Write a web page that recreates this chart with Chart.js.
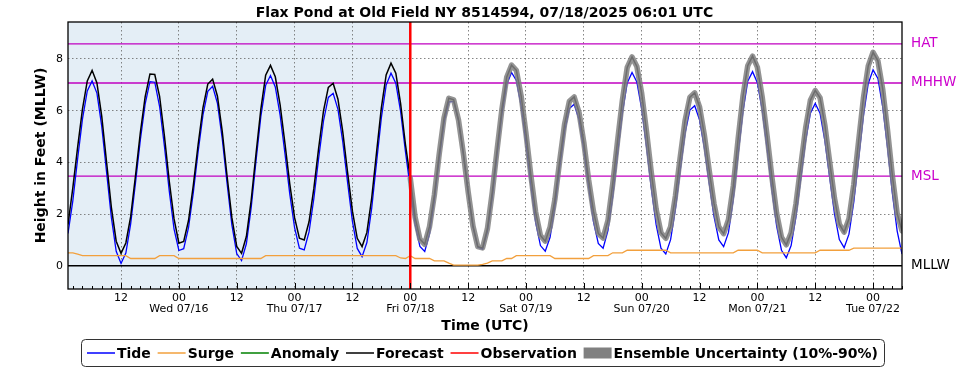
<!DOCTYPE html>
<html>
<head>
<meta charset="utf-8">
<title>Flax Pond at Old Field NY 8514594</title>
<script src="https://cdn.jsdelivr.net/npm/chart.js@4.4.1/dist/chart.umd.min.js"></script>
<style>
  html, body { margin: 0; padding: 0; background: #fff; }
  canvas { display: block; }
</style>
</head>
<body>
<canvas id="tideChart" width="969" height="370"></canvas>
<script>
// hourly values, first point is 07/15 01:00 UTC
const startHour = 1; // hours after 07/15 00:00 UTC
const nowHour = 72; // 07/18 00:00 UTC

const tide = [
  1.25, 2.51, 4.14, 5.67, 6.76, 7.15, 6.68, 5.39, 3.62, 1.86, 0.56, 0.09,
  0.49, 1.62, 3.20, 4.86, 6.25, 7.12, 7.10, 6.16, 4.63, 2.89, 1.42, 0.59,
  0.66, 1.47, 2.84, 4.42, 5.84, 6.75, 6.94, 6.28, 4.91, 3.18, 1.57, 0.47,
  0.20, 0.85, 2.25, 4.05, 5.77, 6.98, 7.36, 6.92, 5.83, 4.35, 2.78, 1.47,
  0.68, 0.61, 1.31, 2.60, 4.17, 5.60, 6.51, 6.67, 6.05, 4.79, 3.21, 1.72,
  0.67, 0.35, 0.90, 2.23, 3.99, 5.72, 6.99, 7.45, 7.06, 5.96, 4.41, 3.00,
  1.60, 0.75, 0.55, 1.24, 2.55, 4.13, 5.53, 6.34, 6.36, 5.62, 4.34, 2.85,
  1.52, 0.72, 0.64, 1.33, 2.64, 4.28, 5.85, 7.01, 7.48, 7.17, 6.18, 4.73,
  3.13, 1.69, 0.78, 0.56, 1.10, 2.29, 3.79, 5.19, 6.08, 6.25, 5.66, 4.49,
  3.04, 1.71, 0.86, 0.68, 1.36, 2.68, 4.33, 5.91, 7.07, 7.48, 7.11, 6.07,
  4.61, 3.00, 1.59, 0.68, 0.46, 1.01, 2.20, 3.71, 5.12, 6.02, 6.19, 5.65,
  4.56, 3.20, 1.91, 1.00, 0.74, 1.28, 2.58, 4.30, 5.95, 7.14, 7.51, 7.08,
  6.03, 4.55, 2.95, 1.53, 0.60, 0.31, 0.78, 1.89, 3.37, 4.82, 5.90, 6.28,
  5.90, 4.84, 3.42, 2.01, 1.01, 0.70, 1.22, 2.47, 4.14, 5.81, 7.05, 7.58,
  7.25, 6.15, 4.57, 2.81, 1.34, 0.45,
];

const surge = [
  0.50, 0.50, 0.45, 0.39, 0.39, 0.39, 0.39, 0.39, 0.39, 0.39, 0.39, 0.39,
  0.39, 0.28, 0.28, 0.28, 0.28, 0.28, 0.28, 0.39, 0.39, 0.39, 0.39, 0.28,
  0.28, 0.28, 0.28, 0.28, 0.28, 0.28, 0.28, 0.28, 0.28, 0.28, 0.28, 0.28,
  0.28, 0.28, 0.28, 0.28, 0.28, 0.39, 0.39, 0.39, 0.39, 0.39, 0.39, 0.39,
  0.39, 0.39, 0.39, 0.39, 0.39, 0.39, 0.39, 0.39, 0.39, 0.39, 0.39, 0.39,
  0.39, 0.39, 0.39, 0.39, 0.39, 0.39, 0.39, 0.39, 0.39, 0.30, 0.28, 0.39,
  0.28, 0.28, 0.28, 0.28, 0.19, 0.19, 0.19, 0.10, 0.02, 0.02, 0.02, 0.02,
  0.02, 0.02, 0.05, 0.10, 0.19, 0.19, 0.19, 0.28, 0.28, 0.39, 0.39, 0.39,
  0.39, 0.39, 0.39, 0.39, 0.39, 0.28, 0.28, 0.28, 0.28, 0.28, 0.28, 0.28,
  0.28, 0.39, 0.39, 0.39, 0.39, 0.50, 0.50, 0.50, 0.60, 0.60, 0.60, 0.60,
  0.60, 0.60, 0.60, 0.60, 0.60, 0.50, 0.50, 0.50, 0.50, 0.50, 0.50, 0.50,
  0.50, 0.50, 0.50, 0.50, 0.50, 0.50, 0.50, 0.60, 0.60, 0.60, 0.60, 0.60,
  0.50, 0.50, 0.50, 0.50, 0.50, 0.50, 0.50, 0.50, 0.50, 0.50, 0.50, 0.50,
  0.60, 0.60, 0.60, 0.60, 0.60, 0.60, 0.60, 0.68, 0.68, 0.68, 0.68, 0.68,
  0.68, 0.68, 0.68, 0.68, 0.68, 0.68,
];

const forecast = [
  1.60, 3.01, 4.59, 6.06, 7.15, 7.56, 7.07, 5.78, 4.01, 2.25, 0.95, 0.48,
  0.88, 1.90, 3.48, 5.14, 6.53, 7.42, 7.40, 6.55, 5.02, 3.28, 1.81, 0.87,
  0.94, 1.75, 3.12, 4.70, 6.12, 7.03, 7.22, 6.56, 5.19, 3.46, 1.85, 0.75,
  0.48, 1.13, 2.53, 4.33, 6.05, 7.37, 7.75, 7.31, 6.22, 4.74, 3.17, 1.86,
  1.07, 1.00, 1.70, 2.99, 4.56, 5.99, 6.90, 7.06, 6.44, 5.18, 3.60, 2.11,
  1.06, 0.74, 1.29, 2.62, 4.38, 6.11, 7.38, 7.84, 7.45, 6.26, 4.69, 3.39,
  1.88, 1.03, 0.83, 1.52, 2.74, 4.32, 5.72, 6.48, 6.42, 5.64, 4.36, 2.87,
  1.54, 0.74, 0.69, 1.43, 2.84, 4.48, 6.05, 7.29, 7.76, 7.56, 6.57, 5.12,
  3.52, 2.08, 1.17, 0.95, 1.49, 2.57, 4.07, 5.47, 6.36, 6.53, 5.94, 4.77,
  3.32, 2.10, 1.25, 1.07, 1.75, 3.18, 4.83, 6.41, 7.67, 8.08, 7.71, 6.67,
  5.21, 3.60, 2.19, 1.28, 1.06, 1.51, 2.70, 4.21, 5.62, 6.52, 6.69, 6.15,
  5.06, 3.70, 2.41, 1.50, 1.24, 1.78, 3.08, 4.90, 6.55, 7.74, 8.11, 7.68,
  6.53, 5.05, 3.45, 2.03, 1.10, 0.81, 1.28, 2.39, 3.87, 5.32, 6.40, 6.78,
  6.50, 5.44, 4.02, 2.61, 1.61, 1.30, 1.82, 3.15, 4.82, 6.49, 7.73, 8.26,
  7.93, 6.83, 5.25, 3.49, 2.02, 1.35,
];

const anomaly = [];
const observation = [];

const xTickHours = [12, 24, 36, 48, 60, 72, 84, 96, 108, 120, 132, 144, 156, 168];
const xTickLabels = [
  "12", ["00", "Wed 07/16"], "12", ["00", "Thu 07/17"], "12", ["00", "Fri 07/18"],
  "12", ["00", "Sat 07/19"], "12", ["00", "Sun 07/20"], "12", ["00", "Mon 07/21"],
  "12", ["00", "Tue 07/22"],
];
const yTicks = [0, 2, 4, 6, 8];

const datumNames = ["HAT", "MHHW", "MSL", "MLLW"];
const datumValues = [8.58, 7.07, 3.47, 0];

const legendNames = ["Tide", "Surge", "Anomaly", "Forecast", "Observation", "Ensemble Uncertainty (10%-90%)"];

// styles
const FONT = '"DejaVu Sans", sans-serif';
const MAGENTA = "#c000c0";
const datumLineColors = [MAGENTA, MAGENTA, MAGENTA, "#000000"];
const datumTextColors = ["#cc00cc", "#cc00cc", "#cc00cc", "#000000"];
const legendColors = ["#0000ff", "#f2a03d", "#008000", "#000000", "#ff0000", "#808080"];

const hours = tide.map((_, i) => startHour + i);
const toPoints = (vals) => vals.map((v, i) => ({ x: hours[i], y: v }));
const ensemble = forecast.map((v, i) => (hours[i] >= nowHour ? v : null));

const decorations = {
  id: "decorations",
  beforeDraw(chart) {
    // hindcast shading
    const { ctx, chartArea: a, scales } = chart;
    const xNow = scales.x.getPixelForValue(nowHour);
    ctx.save();
    ctx.fillStyle = "#e4eef6";
    ctx.fillRect(a.left, a.top, xNow - a.left, a.bottom - a.top);
    ctx.restore();
  },
  beforeDatasetsDraw(chart) {
    const { ctx, chartArea: a, scales } = chart;
    ctx.save();
    datumValues.forEach((v, i) => {
      const y = scales.y.getPixelForValue(v);
      ctx.strokeStyle = datumLineColors[i];
      ctx.lineWidth = 1.3;
      ctx.beginPath();
      ctx.moveTo(a.left, y);
      ctx.lineTo(a.right, y);
      ctx.stroke();
    });
    ctx.restore();
  },
  afterDatasetsDraw(chart) {
    const { ctx, chartArea: a, scales } = chart;
    ctx.save();
    // now line
    const xNow = scales.x.getPixelForValue(nowHour);
    ctx.strokeStyle = "#ff0000";
    ctx.lineWidth = 2.5;
    ctx.beginPath();
    ctx.moveTo(xNow, a.top);
    ctx.lineTo(xNow, a.bottom);
    ctx.stroke();
    // inward ticks on time axis, minor every 2 hours
    ctx.strokeStyle = "#000";
    ctx.lineWidth = 1;
    for (let h = startHour + 1; h <= scales.x.max; h += 2) {
      const x = Math.round(scales.x.getPixelForValue(h)) + 0.5;
      const len = h % 12 === 0 ? 6 : 3;
      ctx.beginPath();
      ctx.moveTo(x, a.bottom);
      ctx.lineTo(x, a.bottom - len);
      ctx.stroke();
    }
    // frame
    ctx.lineWidth = 1.3;
    ctx.strokeRect(a.left, a.top, a.right - a.left, a.bottom - a.top);
    ctx.restore();
  },
  afterDraw(chart) {
    // boxed legend under the axis title
    const ctx = chart.ctx;
    const boxL = 81, boxT = 339, boxW = 803, boxH = 27;
    const sw = 28, gap = 2, pad = 6;
    ctx.save();
    ctx.font = "bold 14px " + FONT;
    const widths = legendNames.map((t) => sw + gap + ctx.measureText(t).width);
    const space = (boxW - 2 * pad - widths.reduce((s, w) => s + w, 0)) / (legendNames.length - 1);
    ctx.fillStyle = "#fff";
    ctx.strokeStyle = "#333";
    ctx.lineWidth = 1;
    ctx.beginPath();
    ctx.roundRect(boxL + 0.5, boxT + 0.5, boxW, boxH, 4);
    ctx.fill();
    ctx.stroke();
    const cy = boxT + boxH / 2 + 0.5;
    let x = boxL + pad;
    legendNames.forEach((t, i) => {
      if (i === legendNames.length - 1) {
        ctx.fillStyle = legendColors[i];
        ctx.fillRect(x, cy - 5.5, sw, 11);
      } else {
        ctx.strokeStyle = legendColors[i];
        ctx.lineWidth = 1.5;
        ctx.beginPath();
        ctx.moveTo(x, cy);
        ctx.lineTo(x + sw, cy);
        ctx.stroke();
      }
      ctx.fillStyle = "#000";
      ctx.textBaseline = "middle";
      ctx.textAlign = "left";
      ctx.fillText(t, x + sw + gap, cy + 1);
      x += widths[i] + space;
    });
    ctx.restore();
  },
};

const gridStyle = { color: "#666", lineWidth: 0.8, drawTicks: false };
const gridBorder = { display: false, dash: [1.5, 2.5] };

new Chart(document.getElementById("tideChart"), {
  type: "line",
  data: {
    datasets: [
      {
        // grey band sits on top of the forecast line, which shows through it
        label: "Ensemble Uncertainty (10%-90%)",
        data: toPoints(ensemble),
        borderColor: "rgba(128,128,128,0.85)",
        borderWidth: 5.5,
        borderJoinStyle: "round",
        borderCapStyle: "round",
        order: 0,
      },
      {
        label: "Forecast",
        data: toPoints(forecast),
        borderColor: "#000000",
        borderWidth: 1.5,
        order: 1,
      },
      {
        label: "Surge",
        data: toPoints(surge),
        borderColor: legendColors[1],
        borderWidth: 1.3,
        order: 3,
      },
      {
        label: "Tide",
        data: toPoints(tide),
        borderColor: "#0000ff",
        borderWidth: 1.3,
        order: 4,
      },
      { label: "Anomaly", data: toPoints(anomaly), borderColor: "#008000", order: 5 },
      { label: "Observation", data: toPoints(observation), borderColor: "#ff0000", order: 6 },
    ],
  },
  options: {
    responsive: false,
    animation: false,
    events: [],
    elements: { point: { radius: 0 }, line: { tension: 0, fill: false } },
    plugins: {
      legend: { display: false },
      tooltip: { enabled: false },
      title: {
        display: true,
        text: "Flax Pond at Old Field NY 8514594, 07/18/2025 06:01 UTC",
        color: "#000",
        font: { family: FONT, size: 14, weight: "bold" },
        padding: { top: 5, bottom: 0.2 },
      },
    },
    scales: {
      x: {
        type: "linear",
        min: startHour,
        max: startHour + tide.length - 1,
        afterBuildTicks: (s) => {
          s.ticks = xTickHours.map((v) => ({ value: v }));
        },
        afterFit: (s) => {
          s.height = 81;
        },
        ticks: {
          callback: (v, i) => xTickLabels[i],
          color: "#000",
          font: { family: FONT, size: 11, lineHeight: 1.0 },
          padding: 3.5,
          maxRotation: 0,
          autoSkip: false,
        },
        grid: gridStyle,
        border: gridBorder,
        title: {
          display: true,
          text: "Time (UTC)",
          color: "#000",
          font: { family: FONT, size: 14, weight: "bold" },
          padding: { top: 0, bottom: 35 },
        },
      },
      y: {
        type: "linear",
        min: -0.9,
        max: 9.43,
        afterBuildTicks: (s) => {
          s.ticks = yTicks.map((v) => ({ value: v }));
        },
        afterFit: (s) => {
          s.width = 68;
        },
        ticks: {
          color: "#000",
          font: { family: FONT, size: 11 },
          padding: 5,
        },
        grid: gridStyle,
        border: gridBorder,
        title: {
          display: true,
          text: "Height in Feet (MLLW)",
          color: "#000",
          font: { family: FONT, size: 14, weight: "bold" },
          padding: { top: 33, bottom: 0 },
        },
      },
      datum: {
        type: "linear",
        position: "right",
        min: -0.9,
        max: 9.43,
        afterBuildTicks: (s) => {
          s.ticks = datumValues.map((v) => ({ value: v }));
        },
        afterFit: (s) => {
          s.width = 67;
        },
        ticks: {
          callback: (v, i) => datumNames[i],
          color: (c) => datumTextColors[c.index],
          font: { family: FONT, size: 13.5 },
          padding: 9,
        },
        grid: { display: false, drawTicks: false },
        border: { display: false },
      },
    },
  },
  plugins: [decorations],
});
</script>
</body>
</html>
